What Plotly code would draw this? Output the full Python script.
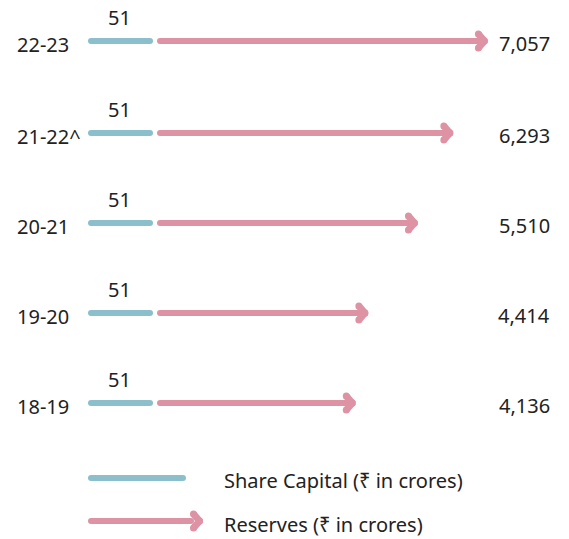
import plotly.graph_objects as go

years = ["22-23", "21-22^", "20-21", "19-20", "18-19"]
share_capital = [51, 51, 51, 51, 51]
reserves = [7057, 6293, 5510, 4414, 4136]
reserve_labels = ["7,057", "6,293", "5,510", "4,414", "4,136"]
legend_names = ["Share Capital (₹ in crores)", "Reserves (₹ in crores)"]

BLUE = "#8cbfcc"
PINK = "#de93a4"
TEXT = "#222222"
FONT = "Noto Sans"
W, H = 569, 539
LW = 6

# pixel <-> data mapping for the horizontal axis
X0_PX = 168.7
PX_PER_UNIT = 0.04523


def px_x(p):
    return (p - X0_PX) / PX_PER_UNIT


def row_y(i):
    return 41 + 90 * i + (2 if i else 0)


def segment(x0, x1, y, color):
    return go.Scatter(
        x=[x0, x1], y=[y, y], mode="lines+markers",
        line=dict(color=color, width=LW),
        marker=dict(color=color, size=LW), hoverinfo="skip", showlegend=False,
    )


def chevron(tip_x, y, color):
    back = 6 / PX_PER_UNIT
    return go.Scatter(
        x=[tip_x - back, tip_x, None, tip_x, tip_x - back],
        y=[y - 7, y, None, y, y + 7], mode="lines+markers",
        line=dict(color=color, width=LW + 1), connectgaps=False,
        marker=dict(color=color, size=LW + 1), hoverinfo="skip", showlegend=False,
    )


fig = go.Figure()
annotations = []

for i, (year, sc, val, lab) in enumerate(zip(years, share_capital, reserves, reserve_labels)):
    y = row_y(i)
    fig.add_trace(segment(px_x(91), px_x(150), y, BLUE))
    tip = val - 3.5 / PX_PER_UNIT
    fig.add_trace(segment(px_x(160), tip - 7 / PX_PER_UNIT, y, PINK))
    fig.add_trace(chevron(tip, y, PINK))
    annotations.append(dict(x=px_x(15), y=y + 3, text=year, xanchor="left"))
    annotations.append(dict(x=px_x(119), y=y - 24, text=str(sc), xanchor="center"))
    annotations.append(dict(x=px_x(552), y=y + 2, text=lab, xanchor="right"))

# legend drawn by hand
fig.add_trace(segment(px_x(91), px_x(183), 478, BLUE))
fig.add_trace(segment(px_x(91), px_x(191), 521, PINK))
fig.add_trace(chevron(px_x(199.5), 521, PINK))
annotations.append(dict(x=px_x(222), y=480, text=legend_names[0], xanchor="left"))
annotations.append(dict(x=px_x(222), y=524, text=legend_names[1], xanchor="left"))

for a in annotations:
    a.update(xref="x", yref="y", yanchor="middle", showarrow=False,
             font=dict(family=FONT, size=20, color=TEXT))

fig.update_layout(
    width=W, height=H,
    margin=dict(l=0, r=0, t=0, b=0),
    paper_bgcolor="white", plot_bgcolor="white",
    showlegend=False,
    annotations=annotations,
)
fig.update_xaxes(range=[px_x(0), px_x(W)], visible=False, fixedrange=True)
fig.update_yaxes(range=[H, 0], visible=False, fixedrange=True)

fig.write_html("out.html", config=dict(displayModeBar=False),
               post_script="document.body.style.margin='0';document.body.style.overflow='hidden';")
